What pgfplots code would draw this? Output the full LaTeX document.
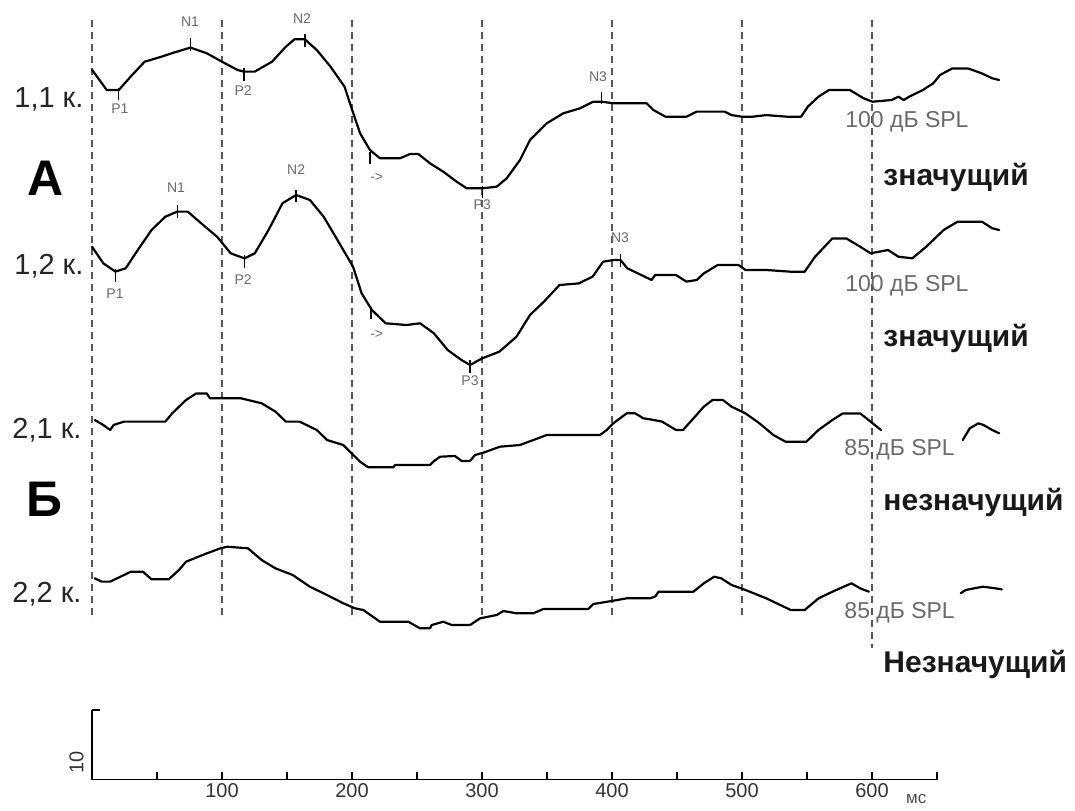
\documentclass[border=0pt]{standalone}
\usepackage{pgfplots}
\pgfplotsset{compat=1.18}
\usepackage{fontspec}
\setmainfont{Liberation Sans}
\definecolor{lblgray}{HTML}{6A6A6A}
\definecolor{dashgray}{HTML}{555555}
\tikzset{
  trace/.style={black, line width=1.1pt, line join=round, line cap=round},
  vline/.style={dashgray, line width=0.7pt, dash pattern=on 3.5pt off 2.5pt},
  pk/.style={black, only marks, mark=|, mark size=3.2pt, mark options={line width=0.7pt}},
  pklbl/.style={text=lblgray, font=\fontsize{7}{8}\selectfont, inner sep=0pt},
  leftlbl/.style={anchor=west, text=black!85, font=\fontsize{14.5}{16}\selectfont, inner sep=0pt},
  biglbl/.style={text=black, font=\fontsize{25}{28}\selectfont\bfseries, inner sep=0pt},
  spl/.style={anchor=west, text=lblgray, font=\fontsize{11.5}{13}\selectfont, inner sep=0pt},
  sig/.style={anchor=west, text=black!90, font=\fontsize{15}{17}\selectfont\bfseries, inner sep=0pt},
}
\begin{document}
\begin{tikzpicture}
\begin{axis}[
  at={(0,0)}, anchor=south west,
  scale only axis, width=537.5pt, height=405pt,
  xmin=-70.77, xmax=756.15, ymin=0, ymax=810, y dir=reverse,
  axis lines=none, clip=false,
]
% dashed time grid
\addplot[vline] coordinates {(0,20) (0,620)};
\addplot[vline] coordinates {(100,20) (100,620)};
\addplot[vline] coordinates {(200,20) (200,620)};
\addplot[vline] coordinates {(300,20) (300,620)};
\addplot[vline] coordinates {(400,20) (400,620)};
\addplot[vline] coordinates {(500,20) (500,620)};
\addplot[vline] coordinates {(600,20) (600,648)};

% trace 1,1
\addplot[trace] coordinates {(0,69.7) (11.3,90) (20.6,90) (29.8,76.5) (40.5,61.7) (53.7,56.6) (61.5,53.2) (75.7,47.6) (88.2,53.2) (100,61.7) (112,70) (116.8,71.6) (125.2,71.6) (138.5,61.7) (149.1,46.7) (155.7,39.3) (163.7,39.3) (172.9,50) (183.5,66.7) (194.2,86.6) (201,113.3) (206.2,133.3) (213.8,150) (221.5,158.3) (236.9,158.3) (244.6,154) (251,154) (260,163.3) (270.2,171.7) (280.5,181.7) (288.2,188.3) (300.2,188.3) (311.3,186.7) (319,178.3) (329.2,160) (336.9,140) (349.8,123.3) (362.5,113.3) (375.4,108.3) (385.6,101.7) (392.1,101.7) (401,103.3) (426.7,103.3) (431.8,110) (441.2,116.7) (457.2,116.7) (465.2,111.6) (486.6,111.6) (492,115.1) (500,116.7) (508.1,116.7) (518.8,115.1) (534.8,116.7) (545.4,116.7) (550.8,106.4) (558.8,96.7) (566.9,90) (582.9,90) (593.6,98.3) (600.3,101.7) (615,100) (620.3,96.7) (624.4,100) (628.5,96.7) (639.1,90) (647.1,83.3) (652.3,75) (661.8,68.4) (673.8,68.4) (684.5,73.4) (692.5,78.3) (697.8,80)};
\addplot[pk] coordinates {(20.6,94) (75.7,44.5) (116.8,74.5) (163.7,40.7) (213.8,158) (300.2,192) (392.1,98)};

% trace 1,2
\addplot[trace] coordinates {(0,246.7) (8.7,263.3) (18,271.6) (25.9,268.3) (35.2,250) (45.8,230) (56.4,216.7) (65.6,211.6) (73.6,211.6) (85.5,225) (96.2,236.7) (106.7,253.3) (117.3,258.4) (125.2,253.3) (135.8,230) (146.5,203.3) (157,195) (167.6,200) (178.2,216.7) (188.8,240) (200.8,266.7) (207.4,293.3) (215.3,310) (225.9,323.3) (241.8,325) (252.4,323.3) (263,333.3) (273.6,350) (284.2,360) (290.8,365) (300,358.4) (313.3,351.7) (326.5,336.7) (336.9,315) (347.6,301.7) (359.6,285) (374.4,283.4) (385.1,276.6) (393.1,261.7) (401.1,260) (406.5,260) (411.8,268.3) (422.5,275) (430.5,280) (433.2,275) (449.2,275) (457.2,281.6) (465.2,280) (470.6,273.4) (481.3,265) (497.3,265) (502.7,270) (518.8,270) (537.5,271.7) (548.2,271.7) (556.2,256.7) (569.5,238.4) (580.2,238.4) (590.9,246.7) (598.9,253.3) (612.3,250) (620.3,256.7) (631,258.3) (641.7,246.7) (655.1,230) (665.8,221.7) (684.5,221.7) (692.5,228.3) (697.8,230)};
\addplot[pk] coordinates {(18,275.6) (65.6,211.6) (117.3,261.7) (157,196) (214.6,313) (290.8,366.5) (406.5,260.1)};

% trace 2,1
\addplot[trace] coordinates {(2.1,420) (8.7,425) (14,430) (16.6,425) (24.6,421.6) (56.4,421.6) (61.7,413.3) (72.3,400) (80.2,393.4) (88.2,393.4) (90.8,398.3) (114.6,398.3) (130.5,403.3) (141.2,411.7) (149.1,421.6) (159.7,421.6) (172.9,430) (180.8,440) (193.3,445) (201,455) (206.2,461.7) (212.5,467.3) (231.8,467.3) (233.1,465) (260,465) (262.5,461.7) (267.7,456.7) (279.2,456) (284.4,461) (290.8,461) (294.6,455) (301,452.7) (313.8,446.7) (329.2,445) (339.5,440) (349.8,435) (390.8,435) (395.9,430) (401,423.3) (411.3,413.3) (417.7,413.3) (424.1,418.3) (429.2,419.3) (438.5,421.6) (449.2,430) (454.6,430) (462.6,418.4) (470.6,406.7) (477.3,400) (485.3,400) (492,406.7) (502.7,413.4) (513.4,423.3) (524.1,435) (533.5,441.7) (549.5,441.7) (558.8,430) (569.5,420) (577.5,413.4) (590.9,413.4) (598.9,421.6) (606.9,430)};
\addplot[trace] coordinates {(669.8,440) (675.2,428.3) (681.8,423.3) (685.8,425) (692.5,430) (697.8,433.3)};

% trace 2,2
\addplot[trace] coordinates {(2.1,578.3) (7.4,581.6) (14,581.6) (21.9,576.7) (29.9,571.7) (39.2,571.7) (45.8,579.3) (59,579.3) (66.9,570) (72.3,561.7) (88.2,553.4) (98.8,548.3) (104.1,546.7) (120,548.3) (130.5,560) (141.2,568.4) (154.4,575) (167.6,586.7) (180.8,595) (193.3,603.3) (202.3,608.3) (208.7,610) (221.5,621.7) (243.3,621.7) (252.3,628.3) (260,628.3) (261.3,625) (270.2,621.7) (276.7,625) (290.8,625) (298.5,618.3) (311.3,615) (316.4,611) (326.7,613.3) (339.5,613.3) (347.2,609) (381.8,609) (385.6,604) (401,600.7) (411.3,598.3) (429.2,598.3) (433.2,596.6) (435.8,591.7) (462.6,591.7) (470.6,583.3) (478.6,576.7) (484,578.3) (492,585) (502.7,590) (518.8,598.4) (537.5,610) (548.2,610) (558.8,598.4) (569.5,591.7) (584.2,583.3) (590.9,588.3) (597.6,591.7)};
\addplot[trace] coordinates {(668.2,593.3) (672.1,590) (679.8,588) (685.4,586.7) (693.1,588) (699.8,589.3)};

% peak labels
\node[pklbl] at (axis cs:75.4,21.3) {N1};
\node[pklbl] at (axis cs:161.5,18.4) {N2};
\node[pklbl] at (axis cs:21.5,108.4) {P1};
\node[pklbl] at (axis cs:116.2,91) {P2};
\node[pklbl] at (axis cs:219,177) {->};
\node[pklbl] at (axis cs:300.2,205) {P3};
\node[pklbl] at (axis cs:389.2,76.7) {N3};
\node[pklbl] at (axis cs:64.6,187.4) {N1};
\node[pklbl] at (axis cs:157,170) {N2};
\node[pklbl] at (axis cs:17.7,293.9) {P1};
\node[pklbl] at (axis cs:116.2,279.4) {P2};
\node[pklbl] at (axis cs:219,334.6) {->};
\node[pklbl] at (axis cs:290.8,381) {P3};
\node[pklbl] at (axis cs:406.2,237.8) {N3};

% left labels
\node[leftlbl] at (axis cs:-60,99) {1,1 к.};
\node[biglbl] at (axis cs:-35.4,178.5) {А};
\node[leftlbl] at (axis cs:-60,266) {1,2 к.};
\node[leftlbl] at (axis cs:-61.5,430) {2,1 к.};
\node[biglbl] at (axis cs:-36.9,499) {Б};
\node[leftlbl] at (axis cs:-61.5,594) {2,2 к.};

% right labels
\node[spl] at (axis cs:579.2,122) {100 дБ SPL};
\node[sig] at (axis cs:608.5,177) {значущий};
\node[spl] at (axis cs:579.2,286) {100 дБ SPL};
\node[sig] at (axis cs:608.5,338) {значущий};
\node[spl] at (axis cs:578.5,450) {85 дБ SPL};
\node[sig] at (axis cs:608.5,502.5) {незначущий};
\node[spl] at (axis cs:578.5,613) {85 дБ SPL};
\node[sig] at (axis cs:608.5,664) {Незначущий};
\end{axis}

% scale bar axis
\begin{axis}[
  at={(46pt,15.25pt)}, anchor=south west,
  scale only axis, width=422.5pt, height=34.75pt,
  xmin=0, xmax=650, ymin=0, ymax=10,
  axis x line=bottom, axis y line=left,
  axis line style={-, line width=0.9pt, black},
  xtick={50,100,...,650},
  xticklabels={{},100,{},200,{},300,{},400,{},500,{},600,{}},
  ytick={10}, yticklabels={},
  tick align=inside, major tick length=4pt,
  tick style={line width=0.8pt, black},
  /pgf/number format/assume math mode=true,
  xticklabel style={font=\fontsize{10}{12}\selectfont, text=black!80, inner sep=2pt},
  ylabel={10},
  ylabel style={at={(axis description cs:0,0.25)}, anchor=south, rotate=0, font=\fontsize{10}{12}\selectfont, text=black!80, inner sep=4pt},
  clip=false,
]
\node[font=\fontsize{8.5}{10}\selectfont, text=black!70, anchor=north] at (axis cs:634,0) [yshift=-4pt] {мс};
\end{axis}
\pgfresetboundingbox
\path (0,0) rectangle (537.5pt,405pt);
\end{tikzpicture}
\end{document}
